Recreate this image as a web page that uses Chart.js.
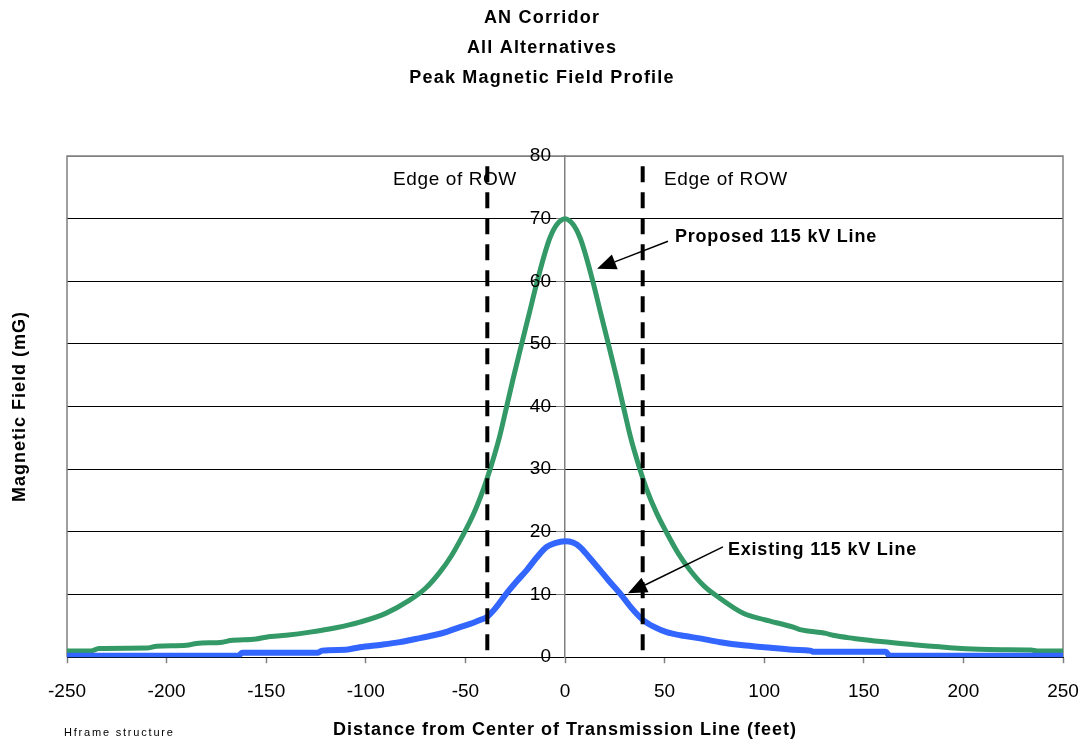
<!DOCTYPE html>
<html>
<head>
<meta charset="utf-8">
<script src="https://cdn.jsdelivr.net/npm/chart.js@4.4.1/dist/chart.umd.min.js"></script>
<style>
  html, body { margin: 0; padding: 0; background: #ffffff; }
  #wrap { width: 1084px; height: 742px; }
</style>
</head>
<body>
<div id="wrap"><canvas id="chart" width="1084" height="742"></canvas></div>
<script>
// Text shown on the chart
const titleLines = ['AN Corridor', 'All Alternatives', 'Peak Magnetic Field Profile'];
const xAxisTitle = 'Distance from Center of Transmission Line (feet)';
const yAxisTitle = 'Magnetic Field (mG)';
const footnote = 'Hframe structure';
const edgeLabel = 'Edge of ROW';

// Axis ranges and ticks
const xTicks = [-250, -200, -150, -100, -50, 0, 50, 100, 150, 200, 250];
const yTicks = [0, 10, 20, 30, 40, 50, 60, 70, 80];

// Right-of-way edges (feet from centerline)
const rowEdges = [-39, 39];
const rowDashSpan = [1.1, 79.4];

// Proposed 115 kV line profile
const proposedDist = [-250, -238, -234, -210, -205, -190, -185, -172, -168, -155, -150, -140, -128, -115, -103, -90,
  -78, -70, -63, -57, -51, -46, -41, -37.6, -33, -29.3, -26, -22, -18, -14.2, -10, -7.5, -4, 0,
  4, 7.5, 10, 14.2, 18, 22, 26, 29.3, 33, 37.6, 41, 46, 51, 57, 63, 70, 76, 89.5, 100, 114.6, 118, 131,
  134.5, 145, 160, 175, 188, 195, 208, 220, 234, 237, 250];
const proposedField = [1.0, 1.0, 1.4, 1.45, 1.75, 1.9, 2.2, 2.4, 2.65, 2.9, 3.2, 3.5, 4.0, 4.7, 5.6, 7.0,
  9.1, 11.0, 13.5, 16.2, 19.6, 22.8, 26.8, 30.0, 35.0, 40.0, 44.5, 49.7, 54.8, 59.7, 64.6, 67.0, 69.1, 70.0,
  69.1, 67.0, 64.6, 59.7, 54.8, 49.7, 44.5, 40.0, 35.0, 30.0, 26.8, 23.0, 19.9, 16.5, 13.8, 11.3, 9.8, 7.0, 6.0, 4.8, 4.4, 3.8,
  3.5, 3.0, 2.45, 2.0, 1.65, 1.45, 1.25, 1.2, 1.15, 1.0, 1.0];

// Existing 115 kV line profile
const existingDist = [-250, -164, -162, -124, -122, -110, -103, -92, -83, -75, -66, -59, -52.7, -46, -42, -39.3,
  -35, -29.3, -24, -19.2, -14, -9.2, -5, 0, 4, 7.5, 12, 17.6, 22, 27.6, 33, 39.3, 45, 51, 58, 67.8, 78,
  89.5, 100, 114.6, 123, 125, 161, 163, 250];
const existingField = [0.25, 0.25, 0.7, 0.7, 1.05, 1.2, 1.6, 2.0, 2.4, 2.9, 3.5, 4.1, 4.8, 5.5, 6.0, 6.4,
  7.8, 10.2, 12.2, 13.9, 16.0, 17.6, 18.2, 18.5, 18.3, 17.6, 16.0, 13.9, 12.2, 10.2, 8.0, 5.9, 4.8, 4.0, 3.5, 3.0, 2.4,
  1.9, 1.6, 1.2, 1.05, 0.85, 0.85, 0.25, 0.25];

// Callouts in data units: label anchor, arrow tail and arrow tip
const callouts = [
  { text: 'Proposed 115 kV Line', at: [55.2, 67.1], from: [51.7, 66.4], to: [16.1, 62.0] },
  { text: 'Existing 115 kV Line', at: [81.8, 17.1], from: [79.3, 17.6], to: [31.6, 10.2] }
];
const edgeLabelsAt = [[-86.3, 76.2], [49.7, 76.2]];

const FONT = '"Liberation Sans", Arial, Helvetica, sans-serif';
const GREEN = '#339966';
const BLUE = '#3366FF';

function toPoints(xs, ys) { return xs.map((x, i) => ({ x: x, y: ys[i] })); }

function drawText(ctx, text, x, y, font, align, spacing) {
  ctx.save();
  ctx.font = font;
  ctx.fillStyle = '#000';
  ctx.textBaseline = 'middle';
  ctx.letterSpacing = (spacing || 0) + 'px';
  const w = ctx.measureText(text).width;
  let left = x;
  if (align === 'center') left = x - w / 2;
  else if (align === 'right') left = x - w;
  ctx.textAlign = 'left';
  ctx.fillText(text, left, y);
  ctx.restore();
}

const decorations = {
  id: 'decorations',
  beforeDatasetsDraw(chart) {
    const { ctx, chartArea: a } = chart;
    // grey plot frame
    ctx.save();
    ctx.strokeStyle = '#808080';
    ctx.lineWidth = 1.5;
    ctx.beginPath();
    ctx.moveTo(a.left, a.bottom);
    ctx.lineTo(a.left, a.top);
    ctx.lineTo(a.right, a.top);
    ctx.lineTo(a.right, a.bottom);
    ctx.stroke();
    ctx.restore();
  },
  afterDraw(chart) {
    const { ctx, chartArea: a, scales } = chart;
    const xs = scales.x, ys = scales.y;

    // value labels of the centred y axis, set left of its tick marks
    const axisX = xs.getPixelForValue(0);
    ys.ticks.forEach(t => drawText(ctx, String(t.value), axisX - 14, ys.getPixelForValue(t.value), '19px ' + FONT, 'right', 0));

    // titles
    titleLines.forEach((t, i) => drawText(ctx, t, 542, 18 + i * 30, 'bold 18px ' + FONT, 'center', 1.2));
    drawText(ctx, xAxisTitle, (a.left + a.right) / 2, 730, 'bold 18px ' + FONT, 'center', 1.0);
    ctx.save();
    ctx.translate(20, (a.top + a.bottom) / 2);
    ctx.rotate(-Math.PI / 2);
    drawText(ctx, yAxisTitle, 0, 0, 'bold 18px ' + FONT, 'center', 1.0);
    ctx.restore();
    drawText(ctx, footnote, 64, 733, '11px ' + FONT, 'left', 1.8);

    // edge of right-of-way labels
    edgeLabelsAt.forEach(p => drawText(ctx, edgeLabel, xs.getPixelForValue(p[0]), ys.getPixelForValue(p[1]), '19px ' + FONT, 'left', 0.6));

    // callouts with arrows
    callouts.forEach(c => {
      drawText(ctx, c.text, xs.getPixelForValue(c.at[0]), ys.getPixelForValue(c.at[1]), 'bold 18px ' + FONT, 'left', 0.8);
      const x0 = xs.getPixelForValue(c.from[0]), y0 = ys.getPixelForValue(c.from[1]);
      const x1 = xs.getPixelForValue(c.to[0]), y1 = ys.getPixelForValue(c.to[1]);
      const ang = Math.atan2(y1 - y0, x1 - x0);
      const len = 19, half = 8;
      const bx = x1 - len * Math.cos(ang), by = y1 - len * Math.sin(ang);
      ctx.save();
      ctx.strokeStyle = '#000';
      ctx.fillStyle = '#000';
      ctx.lineWidth = 1.5;
      ctx.beginPath();
      ctx.moveTo(x0, y0);
      ctx.lineTo(bx, by);
      ctx.stroke();
      ctx.beginPath();
      ctx.moveTo(x1, y1);
      ctx.lineTo(bx + half * Math.sin(ang), by - half * Math.cos(ang));
      ctx.lineTo(bx - half * Math.sin(ang), by + half * Math.cos(ang));
      ctx.closePath();
      ctx.fill();
      ctx.restore();
    });
  }
};

const dashSets = rowEdges.map(e => ({
  label: 'Edge of ROW ' + e,
  data: toPoints([e, e], rowDashSpan),
  borderColor: '#000000',
  borderWidth: 4,
  borderDash: [16, 10],
  pointRadius: 0,
  order: 0
}));

new Chart(document.getElementById('chart'), {
  type: 'line',
  data: {
    datasets: [
      ...dashSets,
      {
        label: 'Existing 115 kV Line',
        data: toPoints(existingDist, existingField),
        borderColor: BLUE,
        borderWidth: 6,
        pointRadius: 0,
        cubicInterpolationMode: 'monotone',
        order: 1
      },
      {
        label: 'Proposed 115 kV Line',
        data: toPoints(proposedDist, proposedField),
        borderColor: GREEN,
        borderWidth: 5,
        pointRadius: 0,
        cubicInterpolationMode: 'monotone',
        order: 2
      }
    ]
  },
  options: {
    responsive: false,
    animation: false,
    devicePixelRatio: 1,
    layout: { padding: { left: 67, right: 21, top: 156, bottom: 22 } },
    plugins: { legend: { display: false }, tooltip: { enabled: false }, title: { display: false } },
    scales: {
      x: {
        type: 'linear',
        position: 'bottom',
        min: -250, max: 250,
        afterBuildTicks: s => { s.ticks = xTicks.map(v => ({ value: v })); },
        afterFit: s => { s.paddingLeft = 0; s.paddingRight = 0; },
        ticks: { color: '#000', font: { family: FONT, size: 19 }, padding: 17, maxRotation: 0 },
        grid: { drawOnChartArea: false, tickLength: 6, tickColor: '#808080', tickWidth: 1.5 },
        border: { color: '#000', width: 1 }
      },
      y: {
        type: 'linear',
        position: { x: 0 },
        min: 0, max: 80,
        afterBuildTicks: s => { s.ticks = yTicks.map(v => ({ value: v })); },
        ticks: { display: false },
        grid: {
          color: c => (c.tick && c.tick.value === 80) ? '#808080' : '#000',
          lineWidth: 1,
          tickLength: 8,
          tickColor: '#808080'
        },
        border: { color: '#808080', width: 1.5 }
      }
    }
  },
  plugins: [decorations]
});
</script>
</body>
</html>
